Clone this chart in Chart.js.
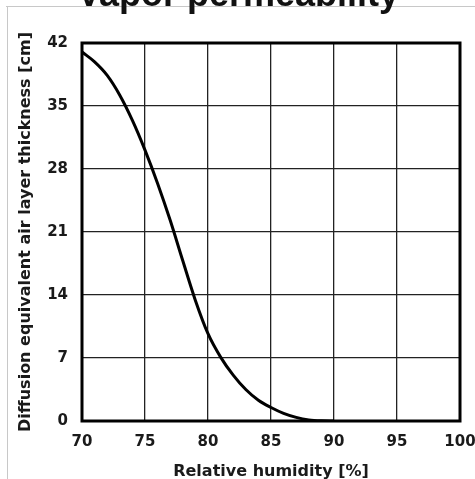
<!DOCTYPE html>
<html>
<head>
<meta charset="utf-8">
<script src="https://cdn.jsdelivr.net/npm/chart.js@4.4.1/dist/chart.umd.min.js"></script>
<style>
  html, body { margin: 0; padding: 0; background: #ffffff; }
  #wrap { width: 475px; height: 479px; }
</style>
</head>
<body>
<div id="wrap"><canvas id="chart" width="475" height="479"></canvas></div>
<script>
// Relative humidity [%] and the matching diffusion-equivalent air layer thickness [cm]
const humidity  = [70, 71, 72, 73, 74, 75, 76, 77, 78, 79, 80, 81, 82, 83, 84, 85, 86, 87, 88, 89, 90];
const thickness = [41.0, 39.9, 38.4, 36.2, 33.4, 30.1, 26.4, 22.3, 17.8, 13.4, 9.7, 7.1, 5.1, 3.5, 2.3, 1.5, 0.85, 0.4, 0.12, 0.02, 0];

const xTicks = [70, 75, 80, 85, 90, 95, 100];
const yTicks = [0, 7, 14, 21, 28, 35, 42];

const chartTitle = 'Vapor permeability';
const xTitle = 'Relative humidity [%]';
const yTitle = 'Diffusion equivalent air layer thickness [cm]';

const FONT = '"DejaVu Sans", Arial, sans-serif';

// Page frame and the heading above the plot
const decorPlugin = {
  id: 'decor',
  beforeDraw(chart) {
    const ctx = chart.ctx;
    ctx.save();
    ctx.fillStyle = '#ffffff';
    ctx.fillRect(0, 0, chart.width, chart.height);
    ctx.strokeStyle = '#c8c8c8';
    ctx.lineWidth = 1;
    ctx.beginPath();
    ctx.moveTo(6, 6.5); ctx.lineTo(chart.width, 6.5);
    ctx.moveTo(7.5, 6); ctx.lineTo(7.5, chart.height);
    ctx.stroke();
    ctx.fillStyle = '#111111';
    ctx.font = 'bold 36px Arial, "Liberation Sans", sans-serif';
    ctx.textAlign = 'center';
    ctx.textBaseline = 'alphabetic';
    ctx.fillText(chartTitle, 238, 5.5);
    ctx.restore();
  },
  afterDatasetsDraw(chart) {
    const a = chart.chartArea;
    const ctx = chart.ctx;
    ctx.save();
    ctx.strokeStyle = '#000000';
    ctx.lineWidth = 3;
    ctx.strokeRect(a.left, a.top, a.right - a.left, a.bottom - a.top);
    ctx.restore();
  }
};

new Chart(document.getElementById('chart'), {
  type: 'line',
  data: {
    datasets: [{
      data: humidity.map((h, i) => ({ x: h, y: thickness[i] })),
      borderColor: '#000000',
      borderWidth: 3,
      pointRadius: 0,
      fill: false,
      cubicInterpolationMode: 'monotone'
    }]
  },
  options: {
    responsive: false,
    devicePixelRatio: 1,
    animation: false,
    layout: { padding: { left: 0, top: 43, right: 15, bottom: 0 } },
    plugins: { legend: { display: false }, tooltip: { enabled: false } },
    scales: {
      x: {
        type: 'linear',
        min: 70, max: 100,
        afterBuildTicks(scale) { scale.ticks = xTicks.map(v => ({ value: v })); },
        afterFit(scale) { scale.height = 58; scale.paddingLeft = 0; scale.paddingRight = 0; },
        grid: { color: '#222222', lineWidth: 1.3, drawTicks: false },
        border: { display: false },
        ticks: { padding: 12, color: '#1a1a1a', font: { family: FONT, size: 15, weight: 'bold' }, maxRotation: 0 },
        title: { display: true, text: xTitle, color: '#1a1a1a', padding: { top: -1, bottom: 0 },
                 font: { family: FONT, size: 16, weight: 'bold', lineHeight: 0.9 } }
      },
      y: {
        type: 'linear',
        min: 0, max: 42,
        afterBuildTicks(scale) { scale.ticks = yTicks.map(v => ({ value: v })); },
        afterFit(scale) { scale.width = 82; scale.paddingTop = 0; scale.paddingBottom = 0; },
        grid: { color: '#222222', lineWidth: 1.3, drawTicks: false },
        border: { display: false },
        ticks: { padding: 14, color: '#1a1a1a', font: { family: FONT, size: 15, weight: 'bold' } },
        title: { display: true, text: yTitle, color: '#1a1a1a', padding: { top: 16, bottom: 0 },
                 font: { family: FONT, size: 16, weight: 'bold' } }
      }
    }
  },
  plugins: [decorPlugin]
});
</script>
</body>
</html>
